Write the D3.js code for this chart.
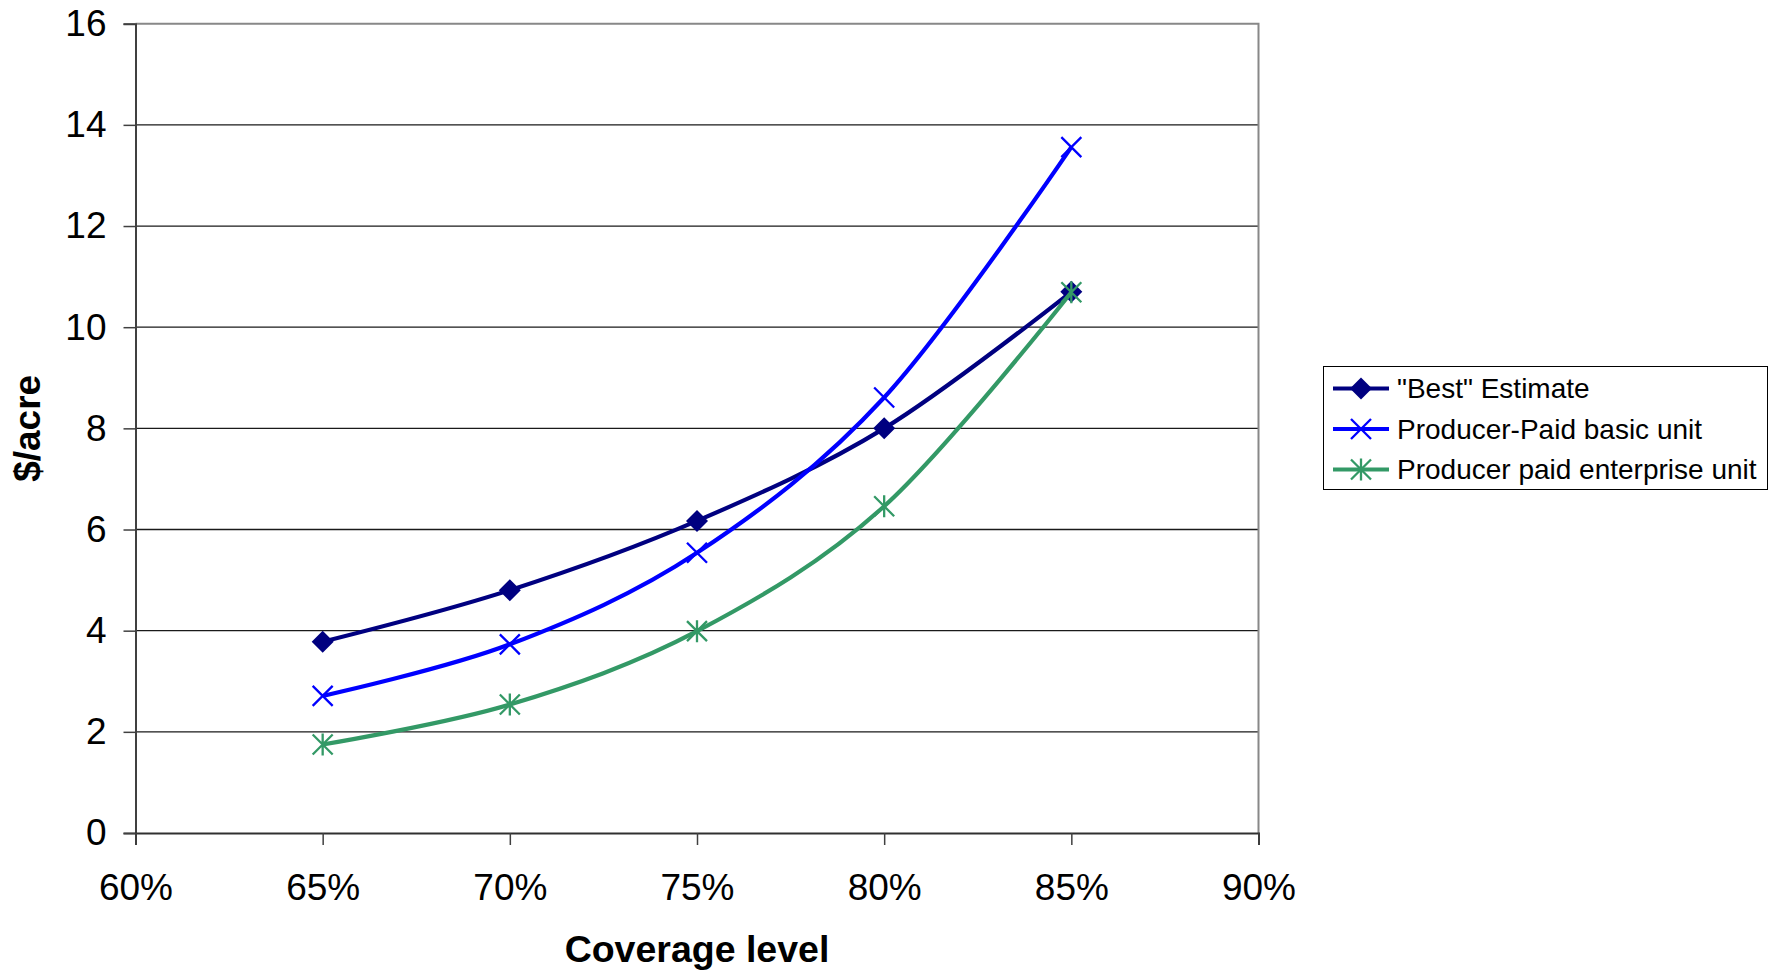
<!DOCTYPE html>
<html>
<head>
<meta charset="utf-8">
<script src="https://cdn.jsdelivr.net/npm/d3@7/dist/d3.min.js"></script>
<style>
  html, body { margin: 0; padding: 0; background: #fff; }
  svg { display: block; font-family: "Liberation Sans", Arial, sans-serif; }
</style>
</head>
<body>
<svg id="chart" width="1779" height="970"></svg>
<script>
// Coverage levels (fraction) and premium per acre for each unit structure
const coverage = [0.65, 0.70, 0.75, 0.80, 0.85];
const bestEstimate = [3.78, 4.80, 6.17, 8.00, 10.70];
const producerBasic = [2.71, 3.73, 5.54, 8.61, 13.56];
const producerEnterprise = [1.75, 2.54, 3.99, 6.46, 10.69];

const seriesNames = ['"Best" Estimate', "Producer-Paid basic unit", "Producer paid enterprise unit"];
const xTicks = [0.60, 0.65, 0.70, 0.75, 0.80, 0.85, 0.90];
const yTicks = [0, 2, 4, 6, 8, 10, 12, 14, 16];

const series = [
  { name: seriesNames[0], values: bestEstimate, color: "#000080", marker: "diamond" },
  { name: seriesNames[1], values: producerBasic, color: "#0000FF", marker: "x" },
  { name: seriesNames[2], values: producerEnterprise, color: "#339966", marker: "star" }
];

const svg = d3.select("#chart");
const plot = { left: 135.5, right: 1258.5, top: 23.7, bottom: 833 };

const x = d3.scaleLinear().domain([0.60, 0.90]).range([plot.left, plot.right]);
const y = d3.scaleLinear().domain([0, 16]).range([plot.bottom, plot.top]);

// Horizontal gridlines
svg.append("g")
  .selectAll("line")
  .data(yTicks.filter(d => d > 0 && d < 16))
  .join("line")
  .attr("x1", plot.left).attr("x2", plot.right)
  .attr("y1", d => y(d)).attr("y2", d => y(d))
  .attr("stroke", "#1a1a1a").attr("stroke-width", 1.3);

// Plot area border (top and right)
svg.append("path")
  .attr("d", `M${plot.left},${plot.top}H${plot.right}V${plot.bottom}`)
  .attr("fill", "none").attr("stroke", "#888").attr("stroke-width", 2);

// Y axis
const yAxis = d3.axisLeft(y).tickValues(yTicks).tickSize(12).tickPadding(17).tickFormat(d3.format("d"));
const gy = svg.append("g").attr("transform", `translate(${plot.left},0)`).call(yAxis);
gy.select(".domain").attr("stroke", "#404040").attr("stroke-width", 2);
gy.selectAll(".tick line").attr("stroke", "#404040").attr("stroke-width", 1.5);
gy.selectAll(".tick text").attr("font-size", 37).attr("fill", "#000")
  .attr("font-family", "'Liberation Sans', Arial, sans-serif");

// X axis
const xAxis = d3.axisBottom(x).tickValues(xTicks).tickSize(12).tickPadding(29).tickFormat(d3.format(".0%"));
const gx = svg.append("g").attr("transform", `translate(0,${plot.bottom})`).call(xAxis);
gx.select(".domain").attr("stroke", "#303030").attr("stroke-width", 2);
gx.selectAll(".tick line").attr("stroke", "#404040").attr("stroke-width", 1.5);
gx.selectAll(".tick text").attr("font-size", 37).attr("fill", "#000")
  .attr("font-family", "'Liberation Sans', Arial, sans-serif");

// Axis titles
svg.append("text")
  .attr("x", (plot.left + plot.right) / 2).attr("y", 962)
  .attr("text-anchor", "middle").attr("font-size", 37.5).attr("font-weight", "bold")
  .text("Coverage level");

svg.append("text")
  .attr("transform", `translate(40,${(plot.top + plot.bottom) / 2}) rotate(-90)`)
  .attr("text-anchor", "middle").attr("font-size", 37).attr("font-weight", "bold")
  .text("$/acre");

// Marker drawing
function drawMarker(g, type, color) {
  if (type === "diamond") {
    g.append("path").attr("d", "M0,-11L11,0L0,11L-11,0Z").attr("fill", color);
  } else if (type === "x") {
    g.append("path").attr("d", "M-10,-10L10,10M-10,10L10,-10")
      .attr("stroke", color).attr("stroke-width", 2.3).attr("fill", "none");
  } else {
    g.append("path").attr("d", "M-10,-10L10,10M-10,10L10,-10M0,-11V11")
      .attr("stroke", color).attr("stroke-width", 2.3).attr("fill", "none");
  }
}

const line = d3.line()
  .x((d, i) => x(coverage[i]))
  .y(d => y(d))
  .curve(d3.curveCardinal.tension(0));

series.forEach(s => {
  const g = svg.append("g");
  g.append("path")
    .attr("d", line(s.values))
    .attr("fill", "none").attr("stroke", s.color).attr("stroke-width", 4.2)
    .attr("stroke-linejoin", "round");
  s.values.forEach((v, i) => {
    const m = g.append("g").attr("transform", `translate(${x(coverage[i])},${y(v)})`);
    drawMarker(m, s.marker, s.color);
  });
});

// Legend
const legend = svg.append("g");
legend.append("rect")
  .attr("x", 1323.5).attr("y", 366.5).attr("width", 444).attr("height", 123)
  .attr("fill", "#fff").attr("stroke", "#000").attr("stroke-width", 1);
const rowY = [388.5, 429, 469.5];
series.forEach((s, i) => {
  const r = legend.append("g");
  r.append("line")
    .attr("x1", 1333).attr("x2", 1389).attr("y1", rowY[i]).attr("y2", rowY[i])
    .attr("stroke", s.color).attr("stroke-width", 4.2);
  const m = r.append("g").attr("transform", `translate(1361,${rowY[i]})`);
  drawMarker(m, s.marker, s.color);
  r.append("text")
    .attr("x", 1397).attr("y", rowY[i]).attr("dy", "0.35em")
    .attr("font-size", 28).attr("fill", "#000")
    .text(s.name);
});
</script>
</body>
</html>
